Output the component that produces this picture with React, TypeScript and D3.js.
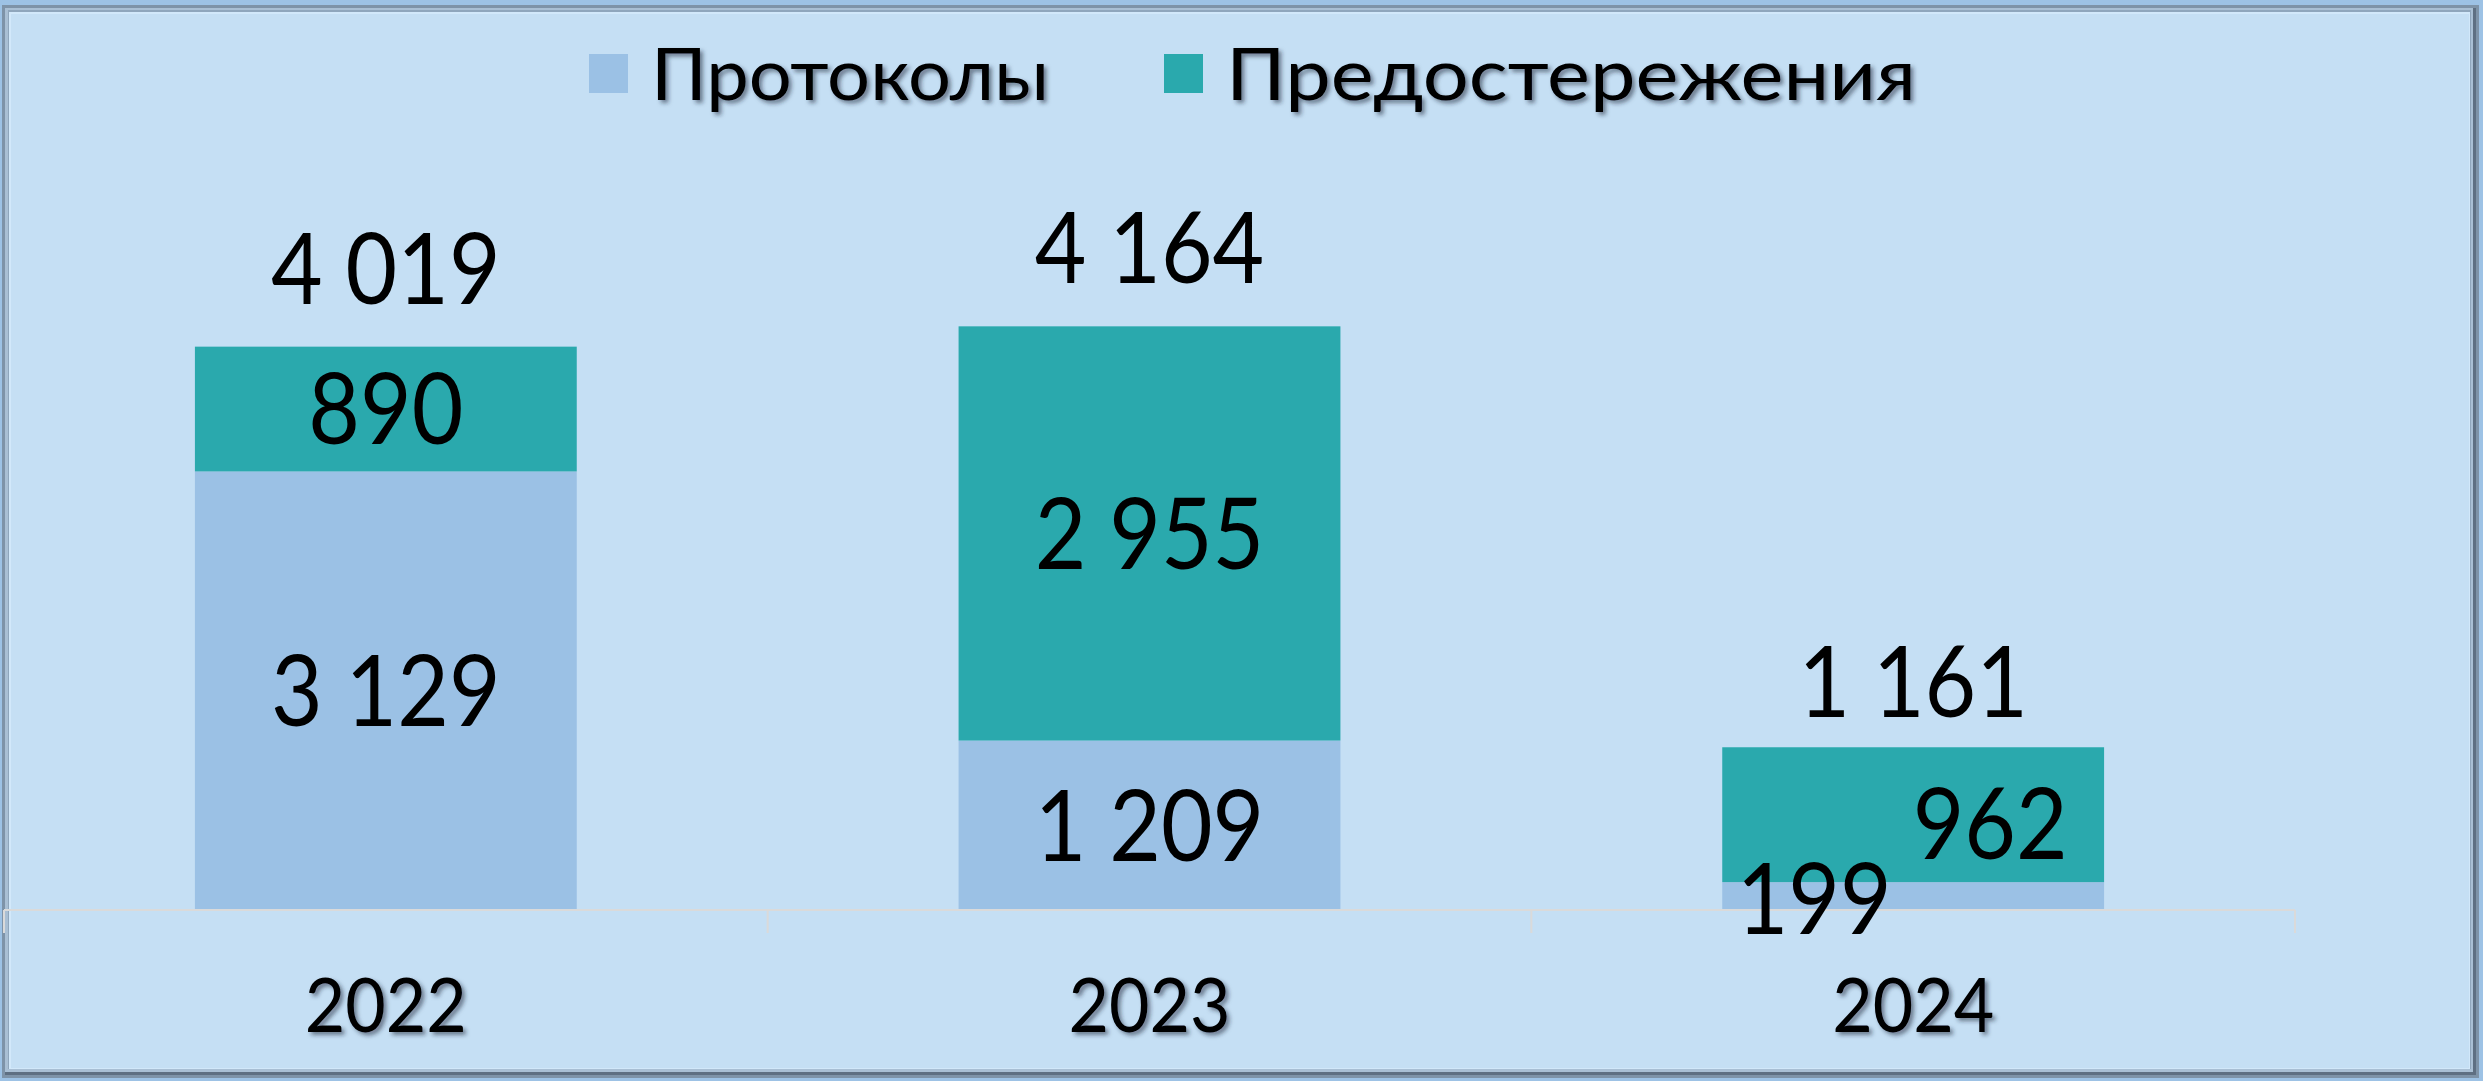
import React from "react";
import * as d3 from "d3";

const categories = ["2022", "2023", "2024"];
const seriesNames = ["Протоколы", "Предостережения"];
const protocols = [3129, 1209, 199];
const warnings = [890, 2955, 962];
const totals = [4019, 4164, 1161];
const yDomainMax = 5000;

const W = 2483;
const H = 1081;
const COLORS = ["#9BC1E5", "#2AA9AD"];
const BG = "#C5DFF4";
const FONT = "Lato, 'Open Sans', sans-serif";
const LABEL_FS = 99;
const CAP = 0.7165;
const SX = 0.9;

// label nudges (layout only) for overlapped labels in the last bar
const protoNudge = [[0, 0], [0, 0], [-99, 2]];
const warnNudge = [[0, 0], [0, 0], [77, 9]];
const totalNudge = [0, 0, 13];

const fmt = (v: number) => {
  const s = String(v);
  return s.length > 3 ? s.slice(0, s.length - 3) + " " + s.slice(-3) : s;
};

function Label({ x, y, text }: { x: number; y: number; text: string }) {
  return (
    <g transform={`translate(${x},${y}) scale(${SX},1)`}>
      <text x={0} y={0}>
        {text}
      </text>
    </g>
  );
}

export default function App() {
  const x = d3
    .scaleBand<string>()
    .domain(categories)
    .range([4, 2295])
    .paddingInner(0.5)
    .paddingOuter(0.25);
  const y = d3.scaleLinear().domain([0, yDomainMax]).range([910, 909.9 - yDomainMax * 0.14015]);
  const bw = x.bandwidth();
  const step = x.step();
  const tickXs = d3.range(categories.length + 1).map((i) => 4 + i * step);

  const stacked = categories.map((c, i) => {
    const segs = [
      { v: protocols[i], y0: 0, y1: protocols[i] },
      { v: warnings[i], y0: protocols[i], y1: protocols[i] + warnings[i] },
    ];
    return { c, i, segs };
  });

  const baseline = (center: number) => center + (CAP * LABEL_FS) / 2;

  return (
    <div style={{ position: "absolute", left: 0, top: 0 }}>
      <svg width={W} height={H} viewBox={`0 0 ${W} ${H}`} style={{ display: "block" }}>
        <defs>
          <filter id="tshadow" x="-10%" y="-20%" width="130%" height="150%">
            <feDropShadow dx="3" dy="3" stdDeviation="2" floodColor="#1a2a3a" floodOpacity="0.55" />
          </filter>
        </defs>
        {/* frame */}
        <rect x={0} y={0} width={W} height={H} fill="#9DC2E5" />
        <rect x={2} y={5} width={W - 6} height={H - 8} fill="#7E93A8" />
        <rect x={5} y={8} width={W - 12} height={H - 14} fill="#5E6F82" />
        <rect x={5} y={8} width={W - 15} height={H - 17} fill="#A9BFD4" />
        <rect x={8} y={10} width={W - 20} height={H - 22} fill="#8FA6BC" />
        <rect x={9} y={12} width={W - 22} height={H - 24} fill="#D2E8FA" />
        <rect x={11} y={14} width={W - 25} height={H - 27} fill={BG} />

        {/* legend */}
        {seriesNames.map((name, k) => {
          const sx = k === 0 ? 589 : 1164;
          const len = k === 0 ? 398 : 690;
          return (
            <g key={name}>
              <rect x={sx} y={54} width={39} height={39} fill={COLORS[k]} />
              <text
                x={sx + 62}
                y={100}
                fontFamily={FONT}
                fontSize={72}
                fill="#000"
                textLength={len}
                lengthAdjust="spacingAndGlyphs"
                filter="url(#tshadow)"
              >
                {name}
              </text>
            </g>
          );
        })}

        {/* bars */}
        {stacked.map((s) =>
          s.segs.map((seg, k) => (
            <rect
              key={s.c + k}
              x={x(s.c)!}
              y={y(seg.y1)}
              width={bw}
              height={y(seg.y0) - y(seg.y1)}
              fill={COLORS[k]}
            />
          ))
        )}

        {/* axis */}
        <line x1={tickXs[0]} x2={tickXs[tickXs.length - 1]} y1={910} y2={910} stroke="#DADADA" strokeWidth={2} />
        {tickXs.map((tx, i) => (
          <line key={i} x1={tx} x2={tx} y1={910} y2={933} stroke="#DADADA" strokeWidth={2} />
        ))}
        {categories.map((c) => (
          <text
            key={c}
            x={x(c)! + bw / 2 - 81}
            y={1032}
            fontFamily={FONT}
            fontSize={76}
            fill="#000"
            textLength={162}
            lengthAdjust="spacingAndGlyphs"
            filter="url(#tshadow)"
          >
            {c}
          </text>
        ))}

        {/* data labels */}
        {stacked.map((s) => {
          const cx = x(s.c)! + bw / 2;
          const [p, w] = s.segs;
          const pc = (y(p.y0) + y(p.y1)) / 2;
          const wc = (y(w.y0) + y(w.y1)) / 2;
          return (
            <g key={"lab" + s.c} fontFamily={FONT} fontSize={LABEL_FS} textAnchor="middle" fill="#000">
              <Label x={cx + protoNudge[s.i][0]} y={baseline(pc) + protoNudge[s.i][1]} text={fmt(p.v)} />
              <Label x={cx + warnNudge[s.i][0]} y={baseline(wc) + warnNudge[s.i][1]} text={fmt(w.v)} />
              <Label x={cx} y={y(totals[s.i]) - 43 + totalNudge[s.i]} text={fmt(totals[s.i])} />
            </g>
          );
        })}
      </svg>
    </div>
  );
}
